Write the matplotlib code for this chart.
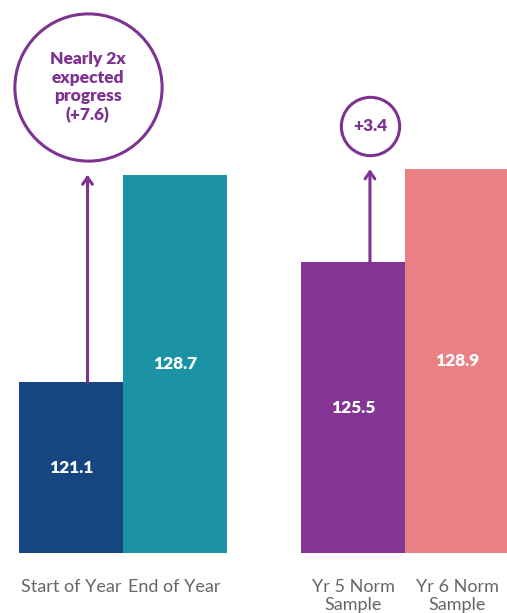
import matplotlib
matplotlib.use("Agg")
import matplotlib.pyplot as plt

# Reading scores for the class vs. the norm samples
labels = ["Start of Year", "End of Year", "Yr 5 Norm\nSample", "Yr 6 Norm\nSample"]
scores = [121.1, 128.7, 125.5, 128.9]
colours = ["#154682", "#1c93a5", "#843593", "#e98184"]
xpos = [0, 1, 2.72, 3.72]

# Progress call-outs: (bar index, gain, circle text, circle size in pt)
gains = [
    (0, 7.6, "Nearly 2x\nexpected\nprogress\n(+7.6)", 106),
    (2, 3.4, "+3.4", 42),
]
purple = "#7f3391"
ymin, ymax = 114.86, 135.09
px_per_unit = 553 / (ymax - ymin)

fig = plt.figure(figsize=(5.07, 6.13), dpi=100)
ax = fig.add_axes([19 / 507, 1 - 553 / 613, 488 / 507, 553 / 613])

ax.bar(xpos, scores, width=1.0, color=colours, bottom=0)
ax.set_xlim(-0.5, 4.2)
ax.set_ylim(ymin, ymax)
ax.axis("off")

# value labels in the middle of each bar
for x, v in zip(xpos, scores):
    ax.text(x, (ymin + v) / 2, f"{v}", color="white", fontsize=12.5,
            fontweight="heavy", family="Lato", ha="center", va="center")

# category labels under the bars
for x, lab in zip(xpos, labels):
    ax.text(x, ymin - 0.95, lab, color="#666666", fontsize=13, family="Lato",
            ha="center", va="top", linespacing=1.15)

# arrows and circles showing the gain
for i, g, txt, size in gains:
    x = xpos[i] + 0.16
    start = scores[i]
    end = start + g
    ax.annotate("", xy=(x, end), xytext=(x, start),
                arrowprops=dict(arrowstyle="->,head_length=0.5,head_width=0.35",
                                color=purple, lw=2.2, shrinkA=0, shrinkB=0))
    r = size / 2 * 1.39 / px_per_unit  # radius in data units
    cy = end + 0.5 + r
    ax.plot([x], [cy], marker="o", markersize=size, markerfacecolor="white",
            markeredgecolor=purple, markeredgewidth=2.2, clip_on=False)
    ax.text(x, cy, txt, color=purple, fontsize=12.5, fontweight="heavy", family="Lato",
            ha="center", va="center", linespacing=1.2)

fig.savefig("out.png", dpi=100)
